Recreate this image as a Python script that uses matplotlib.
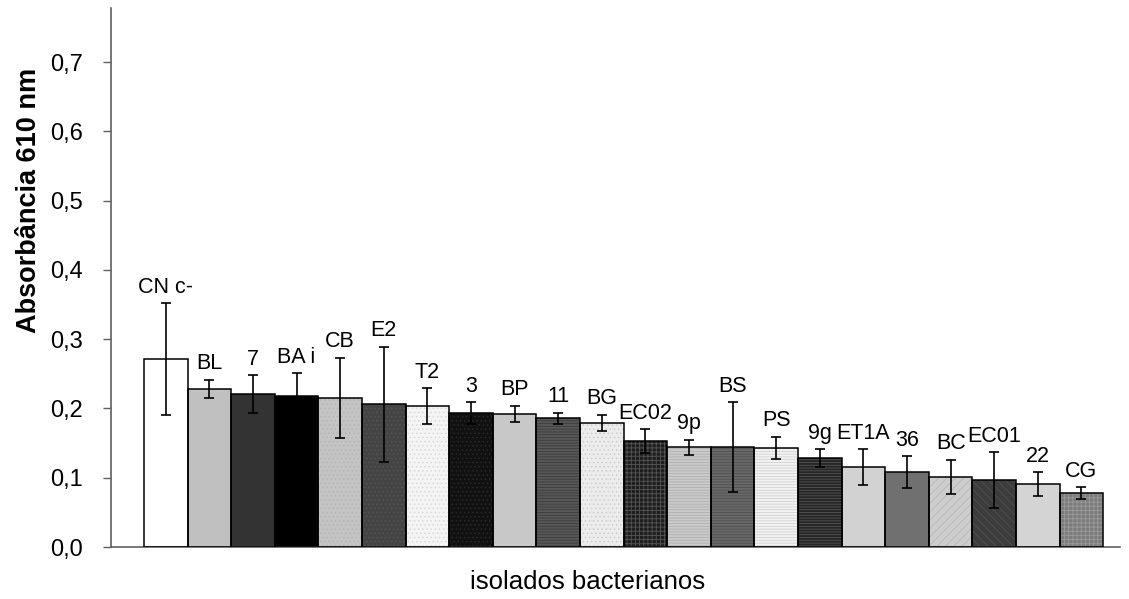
import matplotlib.pyplot as plt
import numpy as np

plt.rcParams['font.family'] = ['Liberation Sans', 'DejaVu Sans']
plt.rcParams['hatch.linewidth'] = 0.6

isolados = ['CN c-', 'BL', '7', 'BA i', 'CB', 'E2', 'T2', '3', 'BP', '11', 'BG',
            'EC02', '9p', 'BS', 'PS', '9g', 'ET1A', '36', 'BC', 'EC01', '22', 'CG']
absorbancia = [0.271, 0.228, 0.221, 0.218, 0.215, 0.206, 0.203, 0.193, 0.192, 0.186, 0.179,
               0.153, 0.144, 0.144, 0.143, 0.128, 0.115, 0.108, 0.101, 0.097, 0.091, 0.078]
desvio = [0.081, 0.013, 0.027, 0.033, 0.058, 0.083, 0.026, 0.016, 0.012, 0.008, 0.012,
          0.017, 0.011, 0.065, 0.016, 0.013, 0.026, 0.023, 0.025, 0.040, 0.017, 0.008]

# fill colour, hatch, hatch colour for each bar
fills = ['#ffffff', '#c0c0c0', '#333333', '#000000', '#c4c4c4', '#444444', '#f4f4f4',
         '#111111', '#c8c8c8', '#585858', '#ececec', '#1e1e1e', '#cacaca', '#686868',
         '#f2f2f2', '#262626', '#d2d2d2', '#707070', '#cdcdcd', '#3c3c3c', '#d4d4d4', '#7c7c7c']
hatches = ['', '', '', '', '....', '....', '....', '....', '', '------', '....', '++++',
           '------', '------', '------', '------', '', '', '////', '\\\\\\\\', '', '++++']
hatch_cols = ['#ffffff', '#c0c0c0', '#333333', '#000000', '#b4b4b4', '#555555', '#d8d8d8',
              '#2a2a2a', '#c8c8c8', '#3c3c3c', '#cccccc', '#555555', '#b0b0b0', '#505050',
              '#d0d0d0', '#555555', '#d2d2d2', '#707070', '#b8b8b8', '#505050', '#d4d4d4', '#9a9a9a']

fig = plt.figure(figsize=(11.29, 5.99), dpi=100)
ax = fig.add_axes([0.0983, 0.0868, 0.894, 0.8998])

x = np.arange(len(isolados))
for i in range(len(isolados)):
    ax.bar(x[i], absorbancia[i], width=1.0, color=fills[i], hatch=hatches[i],
           edgecolor=hatch_cols[i], linewidth=0, zorder=2)
ax.bar(x, absorbancia, width=1.0, fill=False, edgecolor='black', linewidth=1.1, zorder=3)
ax.errorbar(x, absorbancia, yerr=desvio, fmt='none', ecolor='black', elinewidth=1.2,
            capsize=3.5, capthick=1.2, zorder=4)

for i in range(len(isolados)):
    ax.annotate(isolados[i], (x[i], absorbancia[i] + desvio[i]), xytext=(0, 4),
                textcoords='offset points', ha='center', va='bottom', fontsize=15.5)

ax.set_xlim(-1.257, 21.89)
ax.set_ylim(0, 0.778)
ax.set_yticks(np.arange(0, 0.71, 0.1))
ax.set_yticklabels(['0,0', '0,1', '0,2', '0,3', '0,4', '0,5', '0,6', '0,7'], fontsize=17)
ax.set_xticks([])
ax.tick_params(axis='y', length=6, width=1, color='#606060', pad=14)
for s in ['top', 'right']:
    ax.spines[s].set_visible(False)
for s in ['left', 'bottom']:
    ax.spines[s].set_color('#606060')
    ax.spines[s].set_linewidth(1.2)

fig.text(588 / 1129, 1 - 582 / 599, 'isolados bacterianos', fontsize=18.5,
         ha='center', va='center')
fig.text(29 / 1129, 1 - 200 / 599, 'Absorbância 610 nm', fontsize=19.5, fontweight='bold',
         rotation=90, ha='center', va='center')

fig.savefig('out.png', dpi=100)
